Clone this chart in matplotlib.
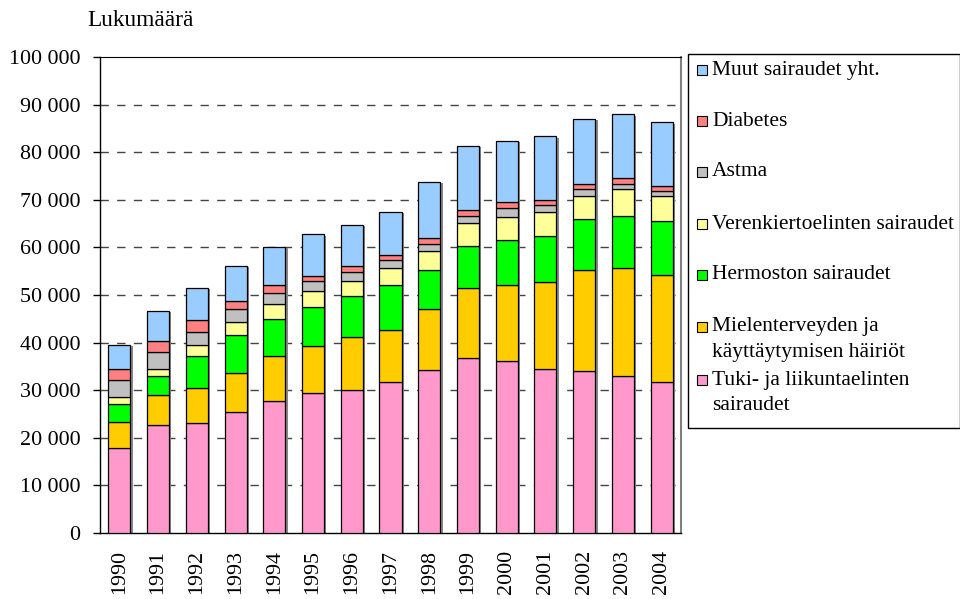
import numpy as np
import matplotlib
matplotlib.use("Agg")
import matplotlib.pyplot as plt
from matplotlib.patches import Rectangle

plt.rcParams['font.family'] = ['Liberation Serif', 'DejaVu Serif']

years = ['1990', '1991', '1992', '1993', '1994', '1995', '1996', '1997',
         '1998', '1999', '2000', '2001', '2002', '2003', '2004']

# values in thousands
tuki = [17.9, 22.7, 23.1, 25.5, 27.8, 29.4, 30.1, 31.8, 34.2, 36.8, 36.1, 34.5, 34.1, 33.0, 31.8]
mielen = [5.5, 6.3, 7.4, 8.2, 9.4, 9.8, 11.1, 10.9, 12.8, 14.6, 16.1, 18.2, 21.2, 22.7, 22.3]
hermo = [3.6, 3.9, 6.7, 7.8, 7.8, 8.3, 8.6, 9.5, 8.3, 8.9, 9.4, 9.8, 10.6, 11.0, 11.4]
veren = [1.6, 1.6, 2.4, 2.8, 3.2, 3.4, 3.1, 3.5, 4.0, 4.8, 4.7, 5.0, 4.8, 5.5, 5.2]
astma = [3.5, 3.5, 2.7, 2.7, 2.3, 2.0, 2.0, 1.6, 1.5, 1.6, 2.0, 1.5, 1.5, 1.2, 1.1]
diabetes = [2.4, 2.4, 2.5, 1.7, 1.7, 1.1, 1.2, 1.1, 1.2, 1.2, 1.2, 1.0, 1.2, 1.2, 1.2]
muut = [5.1, 6.3, 6.7, 7.4, 7.9, 8.8, 8.7, 9.1, 11.8, 13.4, 12.9, 13.3, 13.6, 13.4, 13.3]

series = [tuki, mielen, hermo, veren, astma, diabetes, muut]
labels = ['Tuki- ja liikuntaelinten\nsairaudet',
          'Mielenterveyden ja\nkäyttäytymisen häiriöt',
          'Hermoston sairaudet',
          'Verenkiertoelinten sairaudet',
          'Astma',
          'Diabetes',
          'Muut sairaudet yht.']
colors = ['#FF99CC', '#FFCC00', '#00FF00', '#FFFF99', '#C0C0C0', '#FF8080', '#99CCFF']

fig = plt.figure(figsize=(9.6, 5.99), dpi=100)
ax = fig.add_axes([100 / 960, 1 - 533 / 599, 581 / 960, 476 / 599])

x = np.arange(len(years))
vals = np.array(series) * 1000
totals = vals.sum(axis=0)

# bar shadow
ax.bar(x + 0.06, totals - 300, width=0.57, color='#888888', linewidth=0, zorder=2)

bottom = np.zeros(len(years))
for v, c in zip(vals, colors):
    ax.bar(x, v, width=0.57, bottom=bottom, color=c, edgecolor='black',
           linewidth=0.9, zorder=3)
    bottom += v

ax.set_xlim(-0.5, len(years) - 0.5)
ax.set_ylim(0, 100000)
ax.set_yticks(np.arange(0, 100001, 10000))
ax.set_yticklabels([f"{t:,}".replace(',', ' ') for t in range(0, 100001, 10000)], fontsize=15.8)
ax.set_xticks(x)
ax.set_xticklabels(years, rotation=90, fontsize=15.8)
ax.tick_params(axis='x', length=0, pad=12)
ax.tick_params(axis='y', length=5.3, width=1, pad=9, direction='out')

for g in range(10000, 100000, 10000):
    ax.axhline(g, color='#444444', linestyle=(0, (6, 6)), linewidth=1, zorder=1)

ax.spines['top'].set_color('black')
ax.spines['right'].set_color('#808080')
ax.spines['right'].set_linewidth(1.5)
for s in ['left', 'bottom']:
    ax.spines[s].set_color('black')
    ax.spines[s].set_linewidth(1)

fig.text(87 / 960, 1 - 20 / 599, 'Lukumäärä', fontsize=16.8, ha='left', va='center')

# legend drawn by hand to match the uneven spacing
fig.patches.append(Rectangle((688 / 960, 1 - 428 / 599), 272 / 960, 374 / 599,
                             transform=fig.transFigure, facecolor='white',
                             edgecolor='black', linewidth=1))
leg_y = [380, 327, 275, 224, 172, 121, 70]
for lab, c, yy in zip(labels, colors, leg_y):
    fig.patches.append(Rectangle((697 / 960, 1 - (yy + 5) / 599), 10 / 960, 10 / 599,
                                 transform=fig.transFigure, facecolor=c,
                                 edgecolor='black', linewidth=0.8))
    for k, line in enumerate(lab.split('\n')):
        fig.text(712 / 960, 1 - (yy + 26 * k) / 599, line, fontsize=15.5,
                 ha='left', va='center')

fig.savefig('out.png', dpi=100)
